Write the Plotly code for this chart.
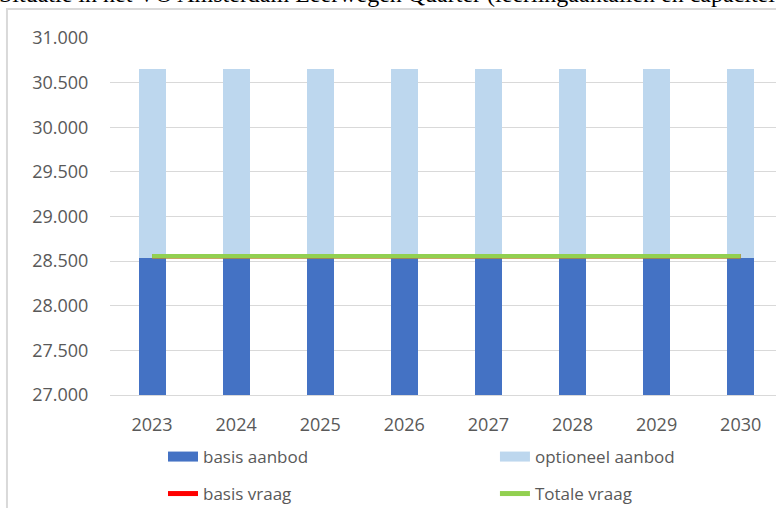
import plotly.graph_objects as go

# Schooljaren en capaciteit (aantal plaatsen)
jaren = ["2023", "2024", "2025", "2026", "2027", "2028", "2029", "2030"]
basis_aanbod = [28540, 28540, 28540, 28540, 28540, 28540, 28540, 28540]
optioneel_aanbod = [2110, 2110, 2110, 2110, 2110, 2110, 2110, 2110]
basis_vraag = [28555, 28555, 28555, 28555, 28555, 28555, 28555, 28555]
totale_vraag = [28555, 28555, 28555, 28555, 28555, 28555, 28555, 28555]

DONKERBLAUW = "#4472C4"
LICHTBLAUW = "#BDD7EE"
ROOD = "#FF0000"
GROEN = "#92D050"
GRIJS = "#595959"
RASTER = "#D9D9D9"
FONT = "Open Sans"

fig = go.Figure()

fig.add_trace(go.Bar(x=jaren, y=basis_aanbod, name="basis aanbod",
                     marker=dict(color=DONKERBLAUW, line=dict(width=0)),
                     showlegend=False))
fig.add_trace(go.Bar(x=jaren, y=optioneel_aanbod, name="optioneel aanbod",
                     marker=dict(color=LICHTBLAUW, line=dict(width=0)),
                     showlegend=False))
fig.add_trace(go.Scatter(x=jaren, y=basis_vraag, name="basis vraag", mode="lines",
                         line=dict(color=ROOD, width=4.5), showlegend=False))
fig.add_trace(go.Scatter(x=jaren, y=totale_vraag, name="Totale vraag", mode="lines",
                         line=dict(color=GROEN, width=4.5), showlegend=False))

# Legenda-items: brede blokken voor het aanbod, lijnen voor de vraag
legend_items = [
    ("basis aanbod", DONKERBLAUW, 12, "legend"),
    ("optioneel aanbod", LICHTBLAUW, 12, "legend2"),
    ("basis vraag", ROOD, 5, "legend3"),
    ("Totale vraag", GROEN, 5, "legend4"),
]
for naam, kleur, dikte, leg in legend_items:
    fig.add_trace(go.Scatter(x=[None], y=[None], name=naam, mode="lines",
                             line=dict(color=kleur, width=dikte), legend=leg))

legend_style = dict(orientation="h",
                    font=dict(family=FONT, size=17, color=GRIJS),
                    bgcolor="rgba(0,0,0,0)", itemsizing="trace",
                    xanchor="left", yanchor="middle")
kolom_links, kolom_rechts = 0.0796, 0.578
rij_boven, rij_onder = -0.1737, -0.2773

fig.update_layout(
    width=776, height=508,
    margin=dict(l=110, r=0, t=38, b=113, autoexpand=False),
    paper_bgcolor="white", plot_bgcolor="white",
    barmode="stack", bargap=0.68,
    separators=",.",
    showlegend=True,
    legend=dict(x=kolom_links, y=rij_boven, **legend_style),
    legend2=dict(x=kolom_rechts, y=rij_boven, **legend_style),
    legend3=dict(x=kolom_links, y=rij_onder, **legend_style),
    legend4=dict(x=kolom_rechts, y=rij_onder, **legend_style),
    xaxis=dict(type="category", range=[-0.5, 7.42],
               showgrid=False, showline=True, linecolor=RASTER, linewidth=1,
               ticks="outside", ticklen=13, tickcolor="rgba(0,0,0,0)",
               tickfont=dict(family=FONT, size=18, color=GRIJS), fixedrange=True),
    yaxis=dict(range=[27000, 31000], dtick=500, tickformat=",d",
               showgrid=True, gridcolor=RASTER, gridwidth=1, zeroline=False,
               ticks="outside", ticklen=17, tickcolor="rgba(0,0,0,0)",
               tickfont=dict(family=FONT, size=18, color=GRIJS), fixedrange=True),
)

# Kader van het grafiekgebied
fig.add_shape(type="rect", xref="paper", yref="paper",
              x0=-0.1547, x1=1.2, y0=-0.35, y1=1.0812,
              line=dict(color=RASTER, width=2), fillcolor="rgba(0,0,0,0)", layer="below")

# Titel boven het kader
fig.add_annotation(text="Situatie in het VO Amsterdam Leerwegen Quarter (leerlingaantallen en capaciteit)",
                   xref="paper", yref="paper", x=-0.17, y=1.081,
                   xanchor="left", yanchor="bottom", showarrow=False,
                   font=dict(family="Liberation Serif", size=24, color="black"))

fig.write_html("out.html")
